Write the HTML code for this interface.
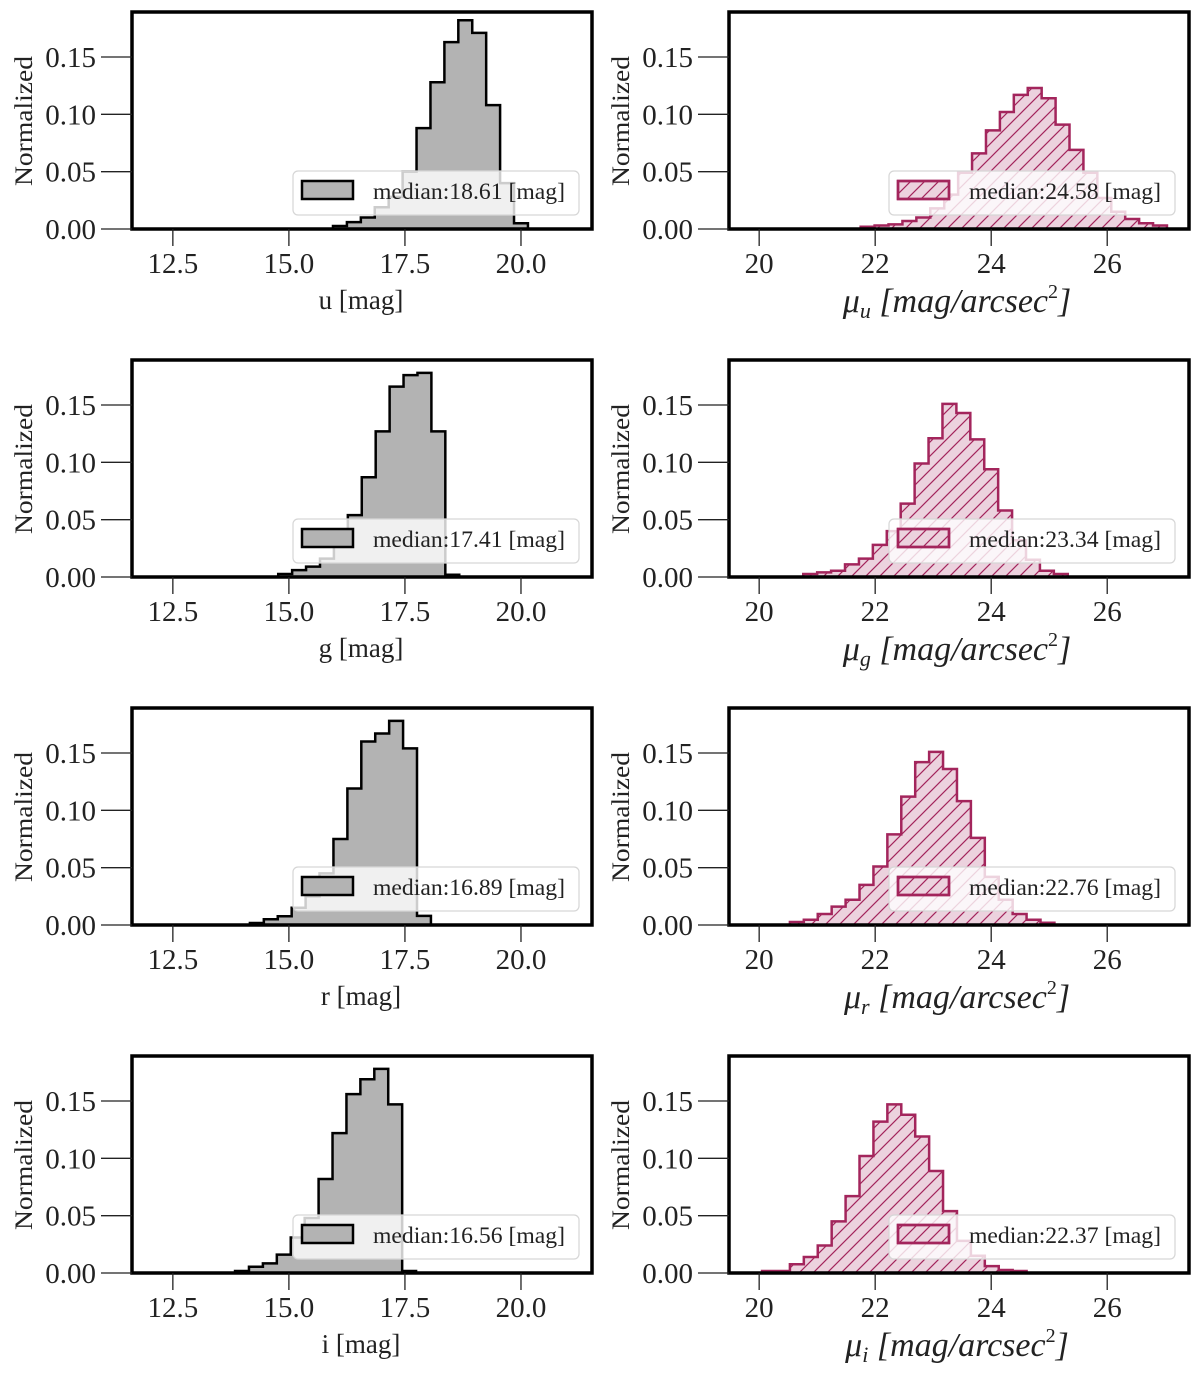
<!DOCTYPE html>
<html><head><meta charset="utf-8"><style>
html,body{margin:0;padding:0;background:#fff;}
svg{display:block;}
svg text{font-family:"Liberation Serif","DejaVu Serif",serif;}
</style></head>
<body>
<svg id="fig" width="1200" height="1373" viewBox="0 0 1200 1373" xmlns="http://www.w3.org/2000/svg" font-family="Liberation Serif, serif">
<defs>
<pattern id="hatch" patternUnits="userSpaceOnUse" width="14" height="14">
<path d="M-2,2 L2,-2 M0,14 L14,0 M12,16 L16,12" stroke="#a3255c" stroke-width="1.2"/>
</pattern>
</defs>
</svg>
<script>
// ---- data (bin start, bin width, normalized heights) ----
const magBands = ["u","g","r","i"];
const medianMag = ["18.61","17.41","16.89","16.56"];
const medianSB = ["24.58","23.34","22.76","22.37"];
const magStart = [15.95, 14.77, 14.16, 13.84];
const magWidth = 0.30;
const magU = [0.0026,0.006,0.010,0.019,0.028,0.050,0.088,0.128,0.163,0.182,0.171,0.108,0.040,0.005];
const magG = [0.0026,0.006,0.009,0.016,0.030,0.054,0.087,0.127,0.166,0.176,0.178,0.127,0.002];
const magR = [0.0017,0.005,0.0076,0.015,0.025,0.045,0.075,0.119,0.160,0.167,0.178,0.154,0.008];
const magI = [0.0017,0.0055,0.0084,0.016,0.031,0.048,0.082,0.122,0.156,0.169,0.178,0.147,0.0017];
const sbStart = [21.75, 20.76, 20.53, 20.05];
const sbWidth = 0.24;
const sbU = [0.002,0.003,0.004,0.007,0.010,0.018,0.030,0.049,0.066,0.086,0.102,0.117,0.123,0.114,0.091,0.069,0.049,0.027,0.015,0.0087,0.005,0.003];
const sbG = [0.0026,0.004,0.0055,0.011,0.016,0.028,0.040,0.064,0.099,0.121,0.151,0.143,0.120,0.094,0.058,0.032,0.015,0.0055,0.0026];
const sbR = [0.0026,0.0046,0.0096,0.016,0.022,0.035,0.051,0.079,0.112,0.142,0.151,0.136,0.108,0.076,0.042,0.022,0.0096,0.0046,0.002];
const sbI = [0.0017,0.0017,0.0076,0.014,0.024,0.045,0.067,0.102,0.132,0.147,0.138,0.119,0.089,0.054,0.028,0.015,0.006,0.0026,0.0017];
const magSeries = [magU, magG, magR, magI];
const sbSeries = [sbU, sbG, sbR, sbI];
const yTicks = [0, 0.05, 0.10, 0.15];
const yTickLabels = ["0.00","0.05","0.10","0.15"];
const magTicks = [12.5, 15.0, 17.5, 20.0];
const magTickLabels = ["12.5","15.0","17.5","20.0"];
const sbTicks = [20, 22, 24, 26];
const sbTickLabels = ["20","22","24","26"];

const NS = "http://www.w3.org/2000/svg";
const FONT = '"Liberation Serif", "DejaVu Serif", serif';
const svg = document.getElementById("fig");
function mk(tag, attrs, parent, text){
  const e = document.createElementNS(NS, tag);
  for (const k in attrs) e.setAttribute(k, attrs[k]);
  if (tag === "text") e.style.fontFamily = FONT;
  if (text !== undefined) e.textContent = text;
  (parent||svg).appendChild(e);
  return e;
}

function panel(row, isSB){
  const L = isSB ? 729 : 132, R = L + 460;
  const T = 12 + 348*row, B = T + 217;
  const xmin = isSB ? 19.48 : 11.62, xmax = isSB ? 27.41 : 21.53;
  const ymax = 217/1146.7;
  const xs = v => L + (v - xmin)/(xmax - xmin)*(R - L);
  const ys = v => B - v/ymax*(B - T);
  const band = magBands[row];
  const g = mk("g", {});
  
  

  const vals = isSB ? sbSeries[row] : magSeries[row];
  const start = isSB ? sbStart[row] : magStart[row];
  const w = isSB ? sbWidth : magWidth;
  let d = "M" + xs(start) + "," + ys(0);
  vals.forEach((v,i) => {
    d += " L" + xs(start + i*w) + "," + ys(v) + " L" + xs(start + (i+1)*w) + "," + ys(v);
  });
  d += " L" + xs(start + vals.length*w) + "," + ys(0) + " Z";
  const fill = isSB ? "#ecd2de" : "#b3b3b3";
  const stroke = isSB ? "#a3255c" : "#000";
  const h1 = mk("path", {d:d, fill:fill, stroke:"none"}, g);
  
  
  if (isSB){
    const h2 = mk("path", {d:d, fill:"url(#hatch)", stroke:"none"}, g);
    
    
  }
  const h3 = mk("path", {d:d, fill:"none", stroke:stroke, "stroke-width":2.5, "stroke-linejoin":"miter"}, g);
  
  

  const lg = mk("g", {}, g);
  
  
  const lx = isSB ? 889 : 293, lw = 286;
  mk("rect", {x:lx, y:T+159, width:lw, height:44, rx:5, fill:"rgba(255,255,255,0.8)", stroke:"#d6d6d6", "stroke-width":1.2}, lg);
  mk("rect", {x:lx+9, y:T+169, width:51, height:18, fill:fill, stroke:stroke, "stroke-width":2.5}, lg);
  if (isSB) mk("rect", {x:lx+9, y:T+169, width:51, height:18, fill:"url(#hatch)", stroke:stroke, "stroke-width":2.5}, lg);
  const lt = mk("text", {x:lx+80, y:T+187, "font-size":23, fill:"#222", textLength:192, lengthAdjust:"spacingAndGlyphs"}, lg,
    "median:" + (isSB ? medianSB[row] : medianMag[row]) + " [mag]");
  
  

  const fr = mk("rect", {x:L, y:T, width:R-L, height:B-T, fill:"none", stroke:"#000", "stroke-width":3.5}, g);
  
  

  yTicks.forEach((v,i) => {
    const y = ys(v);
    mk("line", {x1:L-31, x2:L, y1:y, y2:y, stroke:"#222", "stroke-width":1.3}, g);
    const t = mk("text", {x:L-36, y:y+10, "font-size":29, "text-anchor":"end", fill:"#222"}, g, yTickLabels[i]);
    
    
  });
  const xt = isSB ? sbTicks : magTicks, xl = isSB ? sbTickLabels : magTickLabels;
  xt.forEach((v,i) => {
    const x = xs(v);
    mk("line", {x1:x, x2:x, y1:B, y2:B+17, stroke:"#222", "stroke-width":1.3}, g);
    const t = mk("text", {x:x, y:B+44, "font-size":29, "text-anchor":"middle", fill:"#222"}, g, xl[i]);
    
    
  });
  const ylx = L - 100, yly = T + 109;
  const yl = mk("text", {x:ylx, y:yly, "font-size":25, "text-anchor":"middle", fill:"#222", textLength:130, lengthAdjust:"spacingAndGlyphs", transform:"rotate(-90 "+ylx+" "+yly+")"}, g, "Normalized");
  
  
  if (!isSB){
    const t = mk("text", {x:361, y:B+80, "font-size":27, "text-anchor":"middle", fill:"#222"}, g, band + " [mag]");
    
    
  } else {
    const t = mk("text", {x:957, y:B+83, "font-size":34, "text-anchor":"middle", fill:"#222", "font-style":"italic"}, g);
    
    
    mk("tspan", {}, t, "μ");
    mk("tspan", {"font-size":22, dy:6}, t, band);
    mk("tspan", {dy:-6}, t, " [mag/arcsec");
    mk("tspan", {"font-size":20, dy:-14, "font-style":"normal"}, t, "2");
    mk("tspan", {dy:14}, t, "]");
  }
}
for (let r=0;r<4;r++){ panel(r,false); panel(r,true); }
</script>
</body></html>
